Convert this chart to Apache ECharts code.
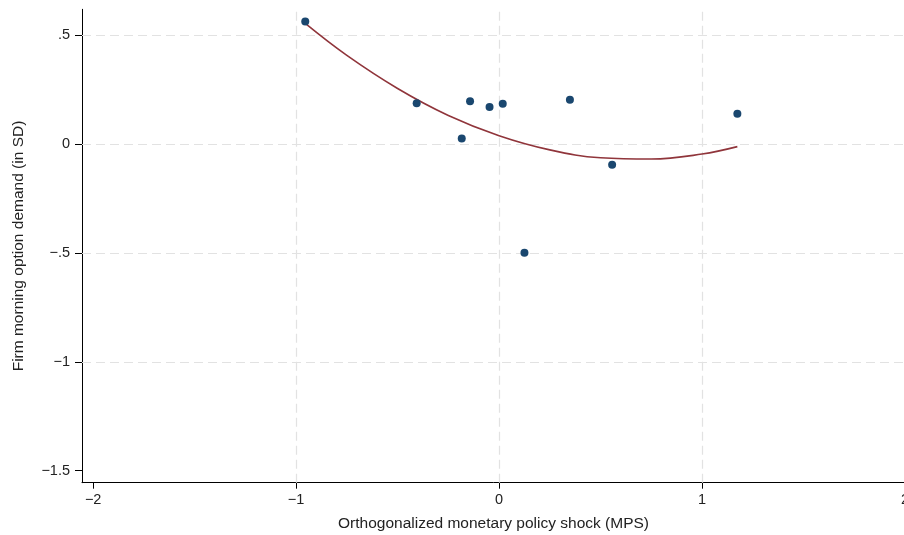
<!DOCTYPE html>
<html>
<head>
<meta charset="utf-8">
<script src="https://cdn.jsdelivr.net/npm/echarts@6/dist/echarts.min.js"></script>
<style>
  html, body { margin: 0; padding: 0; background: #fff; }
  #chart { width: 904px; height: 535px; }
</style>
</head>
<body>
<div id="chart"></div>
<script>
// Binned scatter: monetary policy shock vs. morning option demand
const shockX = [-0.955, -0.406, -0.184, -0.143, -0.047, 0.018, 0.125, 0.349, 0.557, 1.174];
const demandY = [0.564, 0.188, 0.026, 0.197, 0.171, 0.186, -0.499, 0.205, -0.094, 0.140];

// Quadratic fit curve, sampled along the x range
const fitX = [-0.955, -0.75, -0.5, -0.25, 0, 0.25, 0.5, 0.75, 1.0, 1.174];
const fitY = [0.555, 0.408, 0.256, 0.132, 0.039, -0.026, -0.062, -0.068, -0.045, -0.011];

// Tick values and labels
const xTicks = [-2, -1, 0, 1, 2];
const xTickLabels = ['\u22122', '\u22121', '0', '1', '2'];
const yTicks = [0.5, 0, -0.5, -1, -1.5];
const yTickLabels = ['.5', '0', '\u2212.5', '\u22121', '\u22121.5'];

// Gridlines (none drawn at the axis extremes)
const xGrid = [-1, 0, 1, 2];
const yGrid = [0.5, 0, -0.5, -1];

const FONT = 'Liberation Sans, Arial, Helvetica, sans-serif';

function labelFor(ticks, labels) {
  return function (v) {
    for (let i = 0; i < ticks.length; i++) {
      if (Math.abs(ticks[i] - v) < 1e-6) return labels[i];
    }
    return '';
  };
}

const chart = echarts.init(document.getElementById('chart'), null, { renderer: 'canvas' });

const gridStyle = { color: '#e2e2e2', width: 1.2, type: [9, 5] };

chart.setOption({
  animation: false,
  backgroundColor: '#ffffff',
  grid: {
    left: 82, right: -1, top: 9.3, bottom: 52.3,
    containLabel: false,
    outerBoundsMode: 'none'
  },
  xAxis: {
    type: 'value',
    min: -2.055,
    max: 2.0,
    name: 'Orthogonalized monetary policy shock (MPS)',
    nameLocation: 'middle',
    nameGap: 33,
    nameMoveOverlap: false,
    nameTextStyle: { fontFamily: FONT, fontSize: 15.5, color: '#222' },
    axisLine: { show: true, onZero: false, lineStyle: { color: '#000', width: 1 } },
    axisTick: { show: true, customValues: xTicks, length: 6, lineStyle: { color: '#000' } },
    axisLabel: {
      customValues: xTicks,
      formatter: labelFor(xTicks, xTickLabels),
      fontFamily: FONT, fontSize: 14.5, color: '#222', margin: 10
    },
    splitLine: { show: false }
  },
  yAxis: {
    type: 'value',
    min: -1.555,
    max: 0.62,
    name: 'Firm morning option demand (in SD)',
    nameLocation: 'middle',
    nameGap: 55,
    nameRotate: 90,
    nameMoveOverlap: false,
    nameTextStyle: { fontFamily: FONT, fontSize: 15.5, color: '#222' },
    axisLine: { show: true, onZero: false, lineStyle: { color: '#000', width: 1 } },
    axisTick: { show: true, customValues: yTicks, length: 7, lineStyle: { color: '#000' } },
    axisLabel: {
      customValues: yTicks,
      formatter: labelFor(yTicks, yTickLabels),
      fontFamily: FONT, fontSize: 14.5, color: '#222', margin: 12
    },
    splitLine: { show: false }
  },
  series: [
    {
      type: 'line',
      data: [],
      silent: true,
      zlevel: 0,
      markLine: {
        silent: true,
        symbol: 'none',
        label: { show: false },
        lineStyle: gridStyle,
        data: xGrid.map(v => ({ xAxis: v })).concat(yGrid.map(v => ({ yAxis: v })))
      },
      z: 1
    },
    {
      type: 'line',
      data: fitX.map((x, i) => [x, fitY[i]]),
      smooth: 0.4,
      showSymbol: false,
      symbol: 'none',
      lineStyle: { color: '#90353b', width: 1.6 },
      zlevel: 1,
      z: 3
    },
    {
      type: 'scatter',
      data: shockX.map((x, i) => [x, demandY[i]]),
      symbol: 'circle',
      symbolSize: 8,
      itemStyle: { color: '#1a476f', opacity: 1 },
      zlevel: 1,
      z: 4
    }
  ]
});
</script>
</body>
</html>
